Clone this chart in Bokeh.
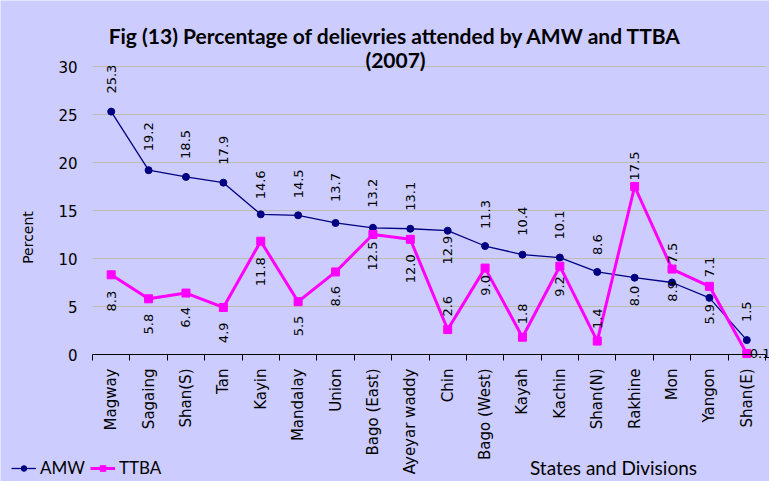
import math
from bokeh.plotting import figure
from bokeh.models import (Range1d, FixedTicker, Legend, LegendItem, Label,
                          ColumnDataSource)
from bokeh.core.properties import value
from bokeh.embed import file_html
from bokeh.resources import INLINE

# ---------------- data ----------------
categories = ["Magway", "Sagaing", "Shan(S)", "Tan", "Kayin", "Mandalay", "Union",
              "Bago (East)", "Ayeyar waddy", "Chin", "Bago (West)", "Kayah", "Kachin",
              "Shan(N)", "Rakhine", "Mon", "Yangon", "Shan(E)"]
amw = [25.3, 19.2, 18.5, 17.9, 14.6, 14.5, 13.7, 13.2, 13.1, 12.9, 11.3, 10.4, 10.1,
       8.6, 8.0, 7.5, 5.9, 1.5]
ttba = [8.3, 5.8, 6.4, 4.9, 11.8, 5.5, 8.6, 12.5, 12.0, 2.6, 9.0, 1.8, 9.2,
        1.4, 17.5, 8.9, 7.1, 0.1]
y_ticks = [0, 5, 10, 15, 20, 25, 30]

# ---------------- label placement (style only) ----------------
amw_side = ["above"] * 18
for i in (9, 14, 16):
    amw_side[i] = "below"
amw_gap = [18, 19, 18, 18, 15, 17, 21, 20, 18, 5, 17, 19, 18, 17, 8, 19, 6, 18]

ttba_side = ["below"] * 18
for i in (9, 11, 13, 14, 16):
    ttba_side[i] = "above"
ttba_side[17] = "right"
ttba_gap = [16, 15, 14, 15, 16, 14, 14, 7, 15, 13, 7, 13, 10, 12, 6, 12, 9, 3]

BG = "#CCCCFF"
AMW_C = "#000080"
TTBA_C = "#FF00FF"

# ---------------- canvas layout (pixels) ----------------
W, H = 769, 481
PLOT_L, PLOT_R, PLOT_T, PLOT_B = 92, 765, 66, 354   # plot area inside the canvas
n = len(categories)
ymin, ymax = y_ticks[0], y_ticks[-1]
kx = (PLOT_R - PLOT_L) / n
ky = (PLOT_B - PLOT_T) / (ymax - ymin)
x0 = -0.5 - PLOT_L / kx
x1 = x0 + W / kx
y1 = ymax + PLOT_T / ky
y0 = y1 - H / ky


def dx(px):
    return x0 + px / kx


def dy(py):
    return y1 - py / ky


xs = list(range(n))

p = figure(width=W, height=H, output_backend="svg", toolbar_location=None,
           title=None, x_range=Range1d(x0, x1), y_range=Range1d(y0, y1),
           min_border=0, min_border_left=0, min_border_right=0,
           min_border_top=0, min_border_bottom=0)
p.background_fill_color = BG
p.border_fill_color = BG
p.outline_line_color = None

# x axis (drawn at y = 0)
p.xaxis.fixed_location = ymin
p.xaxis.bounds = (-0.5, n - 0.5)
p.xaxis.ticker = FixedTicker(ticks=xs, minor_ticks=[i - 0.5 for i in range(n + 1)])
p.xaxis.major_label_overrides = {i: c for i, c in enumerate(categories)}
p.xaxis.major_label_orientation = math.pi / 2
p.xaxis.major_tick_out = 0
p.xaxis.major_tick_in = 0
p.xaxis.minor_tick_out = 6
p.xaxis.minor_tick_in = 0
p.xaxis.minor_tick_line_color = "#000000"
p.xaxis.axis_line_color = "#000000"
p.xaxis.major_label_standoff = 8
p.xaxis.major_label_text_font = "DejaVu Sans"
p.xaxis.major_label_text_font_size = "15px"
p.xaxis.major_label_text_color = "#000000"

# y axis (drawn at left edge of plot area)
p.yaxis.fixed_location = -0.5
p.yaxis.bounds = (ymin, ymax)
p.yaxis.ticker = FixedTicker(ticks=y_ticks)
p.yaxis.axis_line_color = None
p.yaxis.major_tick_line_color = None
p.yaxis.major_tick_out = 0
p.yaxis.major_tick_in = 0
p.yaxis.minor_tick_line_color = None
p.yaxis.major_label_standoff = 15
p.yaxis.major_label_text_font = "DejaVu Sans"
p.yaxis.major_label_text_font_size = "15px"
p.yaxis.major_label_text_color = "#000000"

p.xgrid.grid_line_color = None
GRID_C = "#BDBDB5"
yg = p.ygrid[0]
if "cross_bounds" in yg.properties():
    yg.cross_bounds = (-0.5, n - 0.5)
    yg.ticker = FixedTicker(ticks=y_ticks[1:])
    yg.grid_line_color = GRID_C
    yg.grid_line_width = 1
else:
    yg.grid_line_color = None
    p.segment(x0=[-0.5] * (len(y_ticks) - 1), y0=y_ticks[1:],
              x1=[n - 0.5] * (len(y_ticks) - 1), y1=y_ticks[1:],
              line_color=GRID_C, line_width=1)

# series
amw_line = p.line(xs, amw, line_color=AMW_C, line_width=1.3)
amw_pts = p.scatter(xs, amw, marker="circle", size=7, fill_color=AMW_C, line_color=AMW_C)
tt_line = p.line(xs, ttba, line_color=TTBA_C, line_width=3)
tt_pts = p.scatter(xs, ttba, marker="square", size=8, fill_color=TTBA_C, line_color=TTBA_C)


def add_labels(vals, sides, gaps):
    for side in ("above", "below", "right"):
        idx = [i for i, s in enumerate(sides) if s == side]
        if not idx:
            continue
        src = ColumnDataSource(dict(
            x=[xs[i] for i in idx],
            y=[vals[i] for i in idx],
            t=[f"{vals[i]:.1f}" for i in idx],
            off=[(-gaps[i] if side == "above" else (gaps[i] if side == "below" else 0)) for i in idx],
            xoff=[(gaps[i] if side == "right" else 0) for i in idx],
        ))
        common = dict(source=src, text_font=value("DejaVu Sans"), text_font_size="13px",
                      text_color="#000000", text_baseline="middle")
        if side == "above":
            p.text(x="x", y="y", text="t", angle=math.pi / 2, y_offset="off",
                   text_align="left", **common)
        elif side == "below":
            p.text(x="x", y="y", text="t", angle=math.pi / 2, y_offset="off",
                   text_align="right", **common)
        else:
            p.text(x="x", y="y", text="t", x_offset="xoff", text_align="left", **common)


add_labels(amw, amw_side, amw_gap)
add_labels(ttba, ttba_side, ttba_gap)

# titles and axis titles
p.add_layout(Label(x=dx(395), y=dy(35), text="Fig (13) Percentage of delievries attended by AMW and TTBA",
                   text_font="Lato", text_font_style="bold", text_font_size="21px",
                   text_align="center", text_baseline="middle", text_color="#000000"))
p.add_layout(Label(x=dx(395), y=dy(59), text="(2007)",
                   text_font="Lato", text_font_style="bold", text_font_size="21px",
                   text_align="center", text_baseline="middle", text_color="#000000"))
p.add_layout(Label(x=dx(27), y=dy(237), text="Percent", angle=math.pi / 2,
                   text_font="DejaVu Sans", text_font_size="14px",
                   text_align="center", text_baseline="middle", text_color="#000000"))
p.add_layout(Label(x=dx(613), y=dy(467), text="States and Divisions",
                   text_font="Lato", text_font_size="19px",
                   text_align="center", text_baseline="middle", text_color="#000000"))

legend = Legend(items=[LegendItem(label="AMW", renderers=[amw_line, amw_pts]),
                       LegendItem(label="TTBA", renderers=[tt_line, tt_pts])],
                location=(11, 3), orientation="horizontal",
                background_fill_alpha=0, border_line_color=None, padding=0, margin=0,
                spacing=5, glyph_width=25, glyph_height=14, label_height=14,
                label_standoff=4, label_text_font="Lato", label_text_font_size="17px",
                label_text_color="#000000")
p.add_layout(legend)

open("out.html", "w").write(file_html(p, INLINE))
